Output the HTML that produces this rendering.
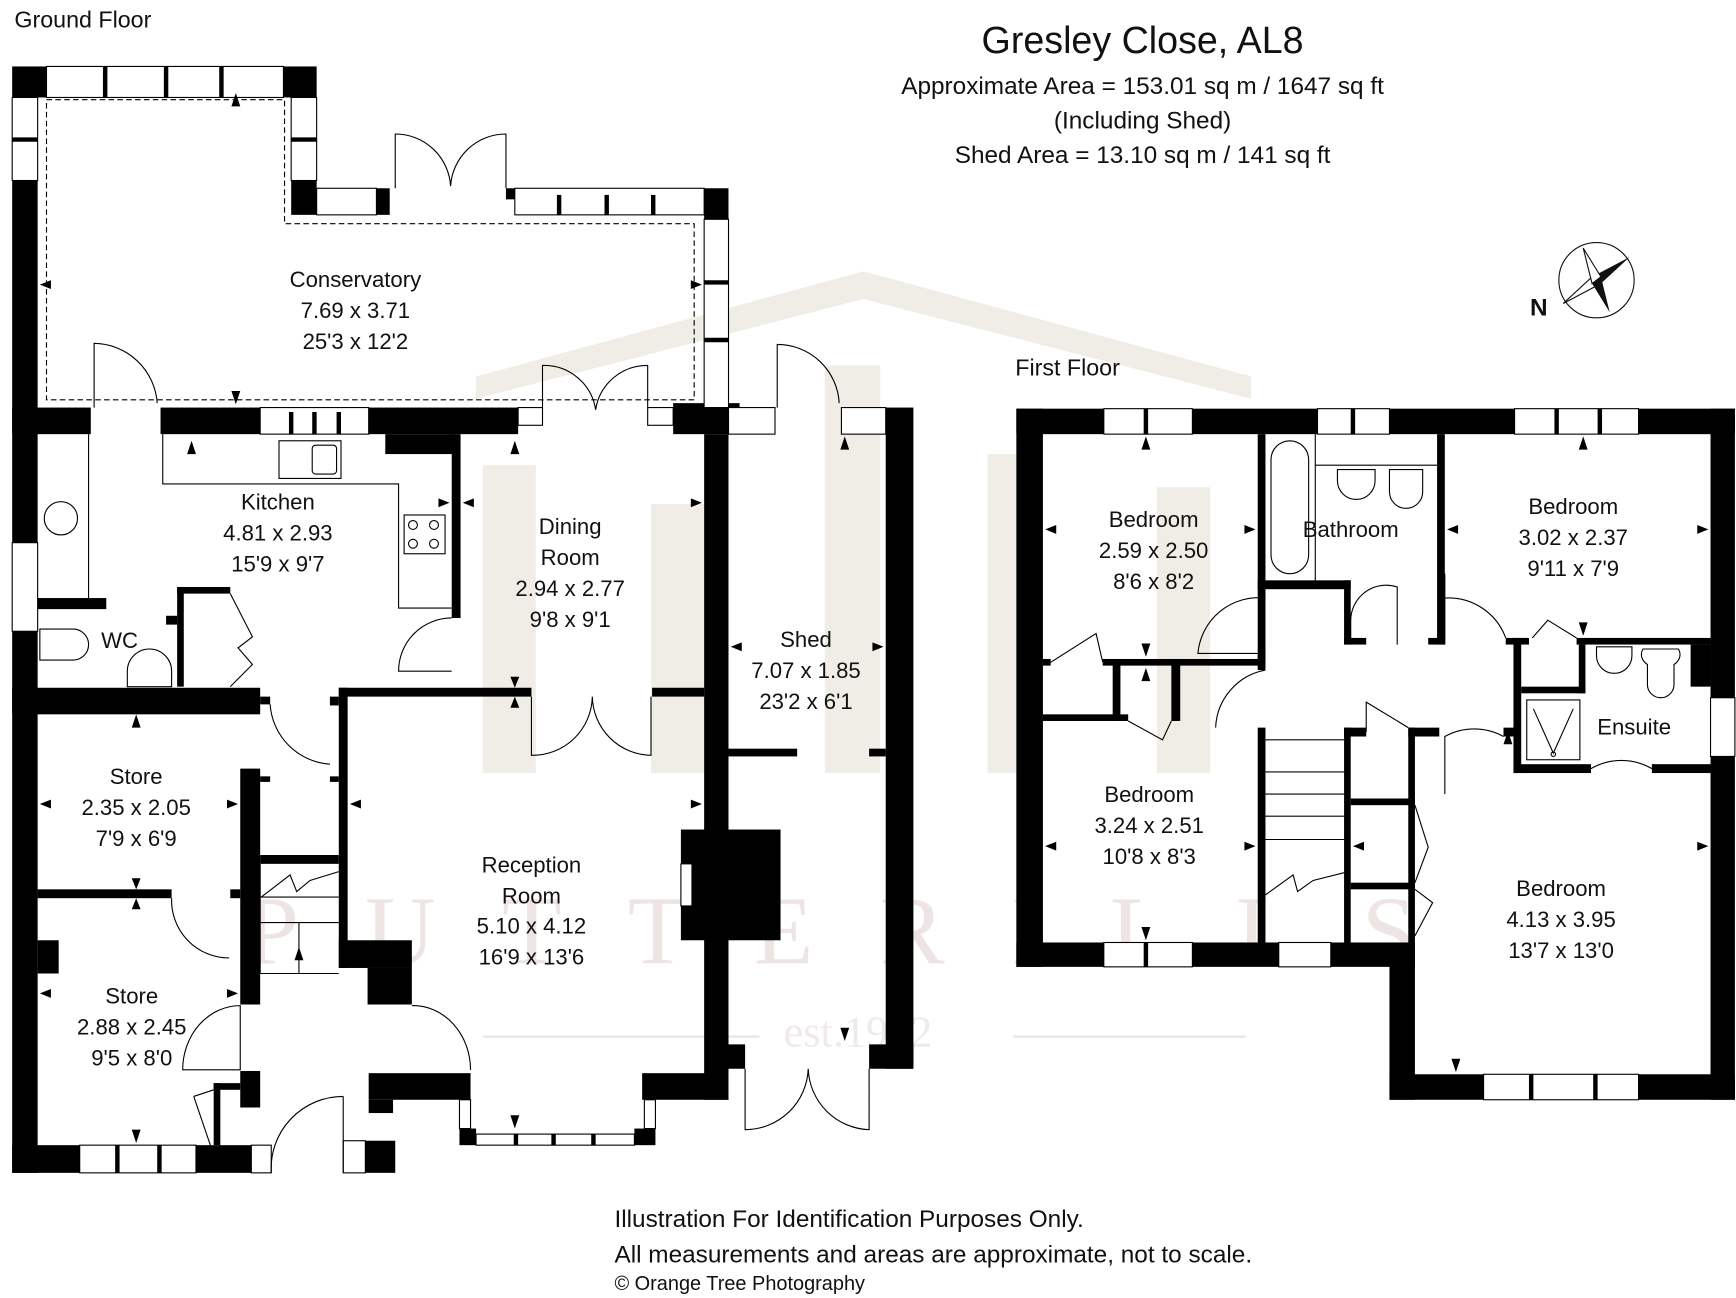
<!DOCTYPE html>
<html><head><meta charset="utf-8"><style>
html,body{margin:0;padding:0;background:#fff;}
svg{display:block;}
text{font-family:"Liberation Sans",sans-serif;fill:#111;}
</style></head><body>
<svg width="1736" height="1298" viewBox="0 0 1568 1172" preserveAspectRatio="none" xmlns="http://www.w3.org/2000/svg">
<!-- watermark -->
<g fill="#efede6">
<polygon points="430,340 780,245 1130,340 1130,360 780,270 430,360"/>
<rect x="436" y="420" width="48" height="278"/>
<rect x="588" y="455" width="48" height="243"/>
<rect x="745" y="330" width="50" height="368"/>
<rect x="892" y="410" width="48" height="288"/>
<rect x="1045" y="440" width="48" height="258"/>
</g>
<text x="780" y="870" text-anchor="middle" style="font-family:'Liberation Serif',serif;font-size:88px;fill:#efe4e4;letter-spacing:60px">PUTTERILLS</text>
<text x="775" y="945" text-anchor="middle" style="font-family:'Liberation Serif',serif;font-size:40px;fill:#f0eaea">est.1902</text>
<rect x="436" y="935" width="250" height="2" fill="#ece3e3"/>
<rect x="915" y="935" width="210" height="2" fill="#ece3e3"/>

<!-- text headers -->
<text x="13" y="25" style="font-size:21px">Ground Floor</text>
<text x="917" y="339" style="font-size:21px">First Floor</text>
<text x="1032" y="48" text-anchor="middle" style="font-size:34px">Gresley Close, AL8</text>
<text x="1032" y="85" text-anchor="middle" style="font-size:22px">Approximate Area =  153.01 sq m / 1647 sq ft</text>
<text x="1032" y="116" text-anchor="middle" style="font-size:22px">(Including Shed)</text>
<text x="1032" y="147" text-anchor="middle" style="font-size:22px">Shed Area =  13.10 sq m / 141 sq ft</text>
<text x="555" y="1108" style="font-size:22px">Illustration For Identification Purposes Only.</text>
<text x="555" y="1140" style="font-size:22px">All measurements and areas are approximate, not to scale.</text>
<text x="555" y="1165" style="font-size:18px">© Orange Tree Photography</text>

<!-- compass -->
<circle cx="1442" cy="253" r="34" fill="none" stroke="#111" stroke-width="1"/>
<polygon points="1472,232 1446,256 1438,250" fill="#111"/>
<polygon points="1412,274 1438,250 1446,256" fill="#fff" stroke="#111"/>
<polygon points="1430,224 1446,250 1438,256" fill="#fff" stroke="#111"/>
<polygon points="1454,282 1438,256 1446,250" fill="#111"/>
<text x="1382" y="285" style="font-size:22px;font-weight:bold">N</text>

<!-- ================= GROUND FLOOR ================= -->
<g fill="#000">
<!-- conservatory -->
<rect x="11" y="60" width="31" height="28"/>
<rect x="256" y="60" width="30" height="28"/>
<rect x="11" y="163" width="23" height="896"/>
<rect x="263" y="163" width="23" height="31"/>
<rect x="340" y="170" width="12" height="24"/>
<rect x="457" y="170" width="8" height="10"/>
<rect x="636" y="170" width="22" height="28"/>
<!-- kitchen top wall -->
<rect x="11" y="368" width="71" height="24"/>
<rect x="145" y="368" width="90" height="24"/>
<rect x="333" y="368" width="135" height="24"/>
<rect x="348" y="392" width="62" height="18"/>
<rect x="608" y="364" width="60" height="28"/>
<!-- kitchen / dining wall -->
<rect x="408" y="392" width="8" height="166"/>
<!-- reception right wall -->
<rect x="636" y="392" width="22" height="601"/>
<rect x="615" y="749" width="90" height="100"/>
<!-- WC / store -->
<rect x="34" y="540" width="62" height="10"/>
<rect x="11" y="621" width="224" height="24"/>
<rect x="235" y="629" width="9" height="7"/>
<rect x="160" y="530" width="48" height="6"/>
<rect x="160" y="530" width="6" height="90"/>
<rect x="150" y="556" width="10" height="8"/>
<!-- reception top -->
<rect x="306" y="621" width="174" height="8"/>
<rect x="589" y="621" width="47" height="8"/>
<rect x="298" y="629" width="8" height="8"/>
<rect x="306" y="621" width="8" height="253"/>
<rect x="306" y="849" width="66" height="25"/>
<rect x="332" y="874" width="40" height="33"/>
<!-- store/hall wall -->
<rect x="217" y="694" width="18" height="213"/>
<rect x="235" y="701" width="9" height="5"/>
<rect x="298" y="701" width="8" height="5"/>
<rect x="235" y="772" width="71" height="8"/>
<rect x="34" y="803" width="121" height="8"/>
<rect x="208" y="803" width="9" height="8"/>
<rect x="34" y="849" width="19" height="30"/>
<rect x="217" y="967" width="18" height="33"/>
<rect x="193" y="978" width="24" height="6"/>
<rect x="193" y="978" width="6" height="56"/>
<!-- bottom walls -->
<rect x="11" y="1034" width="61" height="25"/>
<rect x="177" y="1034" width="50" height="25"/>
<rect x="330" y="1030" width="27" height="29"/>
<rect x="333" y="969" width="92" height="24"/>
<rect x="333" y="993" width="22" height="12"/>
<rect x="415" y="1019" width="15" height="15"/>
<rect x="573" y="1019" width="19" height="15"/>
<rect x="580" y="969" width="78" height="24"/>
<!-- shed -->
<rect x="800" y="368" width="25" height="597"/>
<rect x="658" y="676" width="62" height="7"/>
<rect x="785" y="676" width="15" height="7"/>
<rect x="658" y="943" width="15" height="22"/>
<rect x="785" y="943" width="40" height="22"/>
</g>

<g fill="#fff" stroke="#000" stroke-width="1">
<!-- windows ground -->
<rect x="42" y="60" width="214" height="28"/>
<rect x="11" y="88" width="23" height="75"/>
<rect x="263" y="88" width="23" height="75"/>
<rect x="286" y="170" width="54" height="24"/>
<rect x="465" y="170" width="171" height="24"/>
<rect x="636" y="198" width="22" height="170"/>
<rect x="235" y="368" width="98" height="24"/>
<rect x="468" y="368" width="22" height="16"/>
<rect x="585" y="368" width="23" height="16"/>
<rect x="658" y="368" width="42" height="24"/>
<rect x="760" y="368" width="40" height="24"/>
<rect x="72" y="1034" width="105" height="25"/>
<rect x="227" y="1034" width="18" height="25"/>
<rect x="310" y="1030" width="20" height="29"/>
<rect x="415" y="993" width="10" height="26"/>
<rect x="582" y="993" width="10" height="26"/>
<rect x="430" y="1024" width="143" height="10"/>
<rect x="11" y="490" width="23" height="80" />
<rect x="615" y="780" width="10" height="38"/>
</g>
<g stroke="#000" stroke-width="4">
<line x1="95" y1="60" x2="95" y2="88"/><line x1="150" y1="60" x2="150" y2="88"/><line x1="200" y1="60" x2="200" y2="88"/>
<line x1="11" y1="126" x2="34" y2="126"/><line x1="263" y1="126" x2="286" y2="126"/>
<line x1="505" y1="176" x2="505" y2="194"/><line x1="548" y1="176" x2="548" y2="194"/><line x1="590" y1="176" x2="590" y2="194"/>
<line x1="636" y1="255" x2="658" y2="255"/><line x1="636" y1="307" x2="658" y2="307"/>
<line x1="263" y1="372" x2="263" y2="392"/><line x1="284" y1="372" x2="284" y2="392"/><line x1="306" y1="372" x2="306" y2="392"/>
<line x1="106" y1="1034" x2="106" y2="1059"/><line x1="144" y1="1034" x2="144" y2="1059"/>
<line x1="466" y1="1024" x2="466" y2="1034"/><line x1="500" y1="1024" x2="500" y2="1034"/><line x1="536" y1="1024" x2="536" y2="1034"/>
</g>
<g fill="none" stroke="#000" stroke-width="1">
<!-- dashed conservatory -->
<polyline points="42,90 257,90 257,202 627,202 627,361 42,361 42,90" stroke-dasharray="5,3"/>
<!-- doors -->
<path d="M357,170 V121 A50,50 0 0 1 407,168 M457,170 V121 A50,50 0 0 0 407,168"/>
<path d="M85,368 V310 A58,58 0 0 1 142,364"/>
<path d="M490,368 V330 A47,47 0 0 1 538,370 M585,368 V330 A47,47 0 0 0 538,370"/>
<path d="M702,368 V311 A56,56 0 0 1 758,364"/>
<path d="M480,629 V682 A54,54 0 0 0 535,629 M588,629 V682 A54,54 0 0 1 535,629"/>
<path d="M244,636 A58,58 0 0 0 298,690"/>
<path d="M155,811 A52,52 0 0 0 207,865"/>
<path d="M165,966 A52,58 0 0 1 217,908 L217,966 Z"/>
<path d="M425,966 A52,58 0 0 0 372,908"/>
<path d="M310,990 V1059 M310,990 A65,65 0 0 0 245,1059"/>
<path d="M673,965 V1020 A57,57 0 0 0 730,965 M785,965 V1020 A57,57 0 0 1 730,965"/>
<path d="M408,558 A48,48 0 0 0 360,606 L408,606"/>
<path d="M175,990 L190,1034 M175,990 L193,984"/>
<!-- kitchen counter / wc -->
<polyline points="147,392 147,437 360,437 360,549 408,549"/>
<line x1="80" y1="392" x2="80" y2="540"/>
<rect x="252" y="398" width="56" height="34"/>
<rect x="282" y="402" width="22" height="26" rx="3"/>
<rect x="365" y="465" width="37" height="35"/>
<circle cx="373" cy="474" r="4"/><circle cx="392" cy="474" r="4"/><circle cx="373" cy="491" r="4"/><circle cx="392" cy="491" r="4"/>
<circle cx="55" cy="468" r="15"/>
<path d="M36,568 h30 a14,14 0 0 1 0,28 h-30 z"/>
<path d="M115,620 v-14 a20,20 0 0 1 40,0 v14 z"/>
<path d="M208,536 L228,575 L215,585 L228,600 L208,620"/>
<!-- stairs -->
<line x1="235" y1="810" x2="306" y2="810"/><line x1="235" y1="833" x2="306" y2="833"/><line x1="235" y1="879" x2="306" y2="879"/>
<line x1="235" y1="780" x2="235" y2="879"/><line x1="270" y1="833" x2="270" y2="879"/>
<polyline points="236,810 262,790 268,805 280,795 306,787"/>
</g>

<!-- ================= FIRST FLOOR ================= -->
<g fill="#000">
<rect x="918" y="369" width="79" height="23"/>
<rect x="1077" y="369" width="113" height="23"/>
<rect x="1255" y="369" width="113" height="23"/>
<rect x="1480" y="369" width="87" height="23"/>
<rect x="918" y="369" width="24" height="504"/>
<rect x="918" y="851" width="79" height="22"/>
<rect x="1077" y="851" width="78" height="22"/>
<rect x="1202" y="851" width="76" height="22"/>
<rect x="1255" y="851" width="23" height="142"/>
<rect x="1255" y="970" width="85" height="23"/>
<rect x="1480" y="970" width="87" height="23"/>
<rect x="1545" y="369" width="22" height="261"/>
<rect x="1545" y="683" width="22" height="310"/>
<!-- interior -->
<rect x="1136" y="392" width="7" height="210"/>
<rect x="1136" y="590" width="7" height="15"/>
<rect x="1136" y="657" width="7" height="194"/>
<rect x="1136" y="524" width="84" height="8"/>
<rect x="1214" y="524" width="6" height="58"/>
<rect x="1214" y="576" width="20" height="6"/>
<rect x="1298" y="392" width="7" height="190"/>
<rect x="1290" y="576" width="15" height="6"/>
<rect x="1360" y="576" width="21" height="6"/>
<rect x="1424" y="576" width="121" height="6"/>
<rect x="1367" y="576" width="7" height="122"/>
<rect x="1374" y="620" width="58" height="6"/>
<rect x="1426" y="582" width="6" height="44"/>
<rect x="1367" y="690" width="70" height="8"/>
<rect x="1492" y="690" width="53" height="8"/>
<rect x="1527" y="582" width="18" height="38"/>
<rect x="942" y="595" width="7" height="6"/>
<rect x="996" y="595" width="147" height="6"/>
<rect x="1005" y="600" width="7" height="51"/>
<rect x="1058" y="600" width="8" height="51"/>
<rect x="942" y="645" width="77" height="6"/>
<rect x="1214" y="657" width="6" height="194"/>
<rect x="1214" y="657" width="20" height="8"/>
<rect x="1272" y="657" width="6" height="194"/>
<rect x="1272" y="657" width="28" height="8"/>
<rect x="1220" y="721" width="58" height="6"/>
<rect x="1220" y="797" width="58" height="6"/>
<rect x="1358" y="657" width="9" height="8"/>
</g>
<g fill="#fff" stroke="#000" stroke-width="1">
<rect x="997" y="369" width="80" height="23"/>
<rect x="1190" y="369" width="65" height="23"/>
<rect x="1368" y="369" width="112" height="23"/>
<rect x="997" y="851" width="80" height="22"/>
<rect x="1155" y="851" width="47" height="22"/>
<rect x="1340" y="970" width="140" height="23"/>
<rect x="1545" y="630" width="22" height="53"/>
</g>
<g stroke="#000" stroke-width="4">
<line x1="1035" y1="369" x2="1035" y2="392"/><line x1="1222" y1="369" x2="1222" y2="392"/>
<line x1="1406" y1="369" x2="1406" y2="392"/><line x1="1445" y1="369" x2="1445" y2="392"/>
<line x1="1035" y1="851" x2="1035" y2="873"/>
<line x1="1383" y1="970" x2="1383" y2="993"/><line x1="1441" y1="970" x2="1441" y2="993"/>
</g>
<g fill="none" stroke="#000" stroke-width="1">
<!-- bathroom fixtures -->
<rect x="1148" y="398" width="34" height="120" rx="17"/>
<line x1="1188" y1="392" x2="1188" y2="524"/>
<line x1="1188" y1="420" x2="1298" y2="420"/>
<path d="M1208,424 h34 v10 a17,17 0 0 1 -34,0 z"/>
<path d="M1255,424 h30 v20 a15,15 0 0 1 -30,0 z"/>
<!-- doors -->
<path d="M1143,540 A55,55 0 0 0 1082,590 L1136,590"/>
<path d="M1143,605 A55,55 0 0 0 1098,657"/>
<path d="M1220,582 V560 A32,32 0 0 1 1262,530 L1262,582"/>
<path d="M1305,540 A55,55 0 0 1 1360,576"/>
<path d="M1305,582 V518"/>
<path d="M949,598 L990,572 L996,598"/>
<path d="M1019,651 L1050,668 L1058,651"/>
<path d="M1234,661 L1234,634 L1272,657"/>
<path d="M1305,717 V665 A55,55 0 0 1 1358,665"/>
<path d="M1384,576 L1398,560 L1424,576"/>
<path d="M1437,694 A55,55 0 0 1 1492,694"/>
<path d="M1278,727 L1290,765 L1278,797 M1278,803 L1294,815 L1278,845"/>
<!-- ensuite -->
<rect x="1379" y="632" width="48" height="54"/>
<path d="M1385,640 L1403,680 L1421,640"/><circle cx="1403" cy="681" r="2"/>
<path d="M1442,584 h32 v8 a16,16 0 0 1 -32,0 z"/>
<path d="M1484,586 h32 a16,12 0 0 1 -4,14 v18 a12,12 0 0 1 -24,0 v-18 a16,12 0 0 1 -4,-14 z"/>
<!-- stairs -->
<line x1="1143" y1="668" x2="1214" y2="668"/><line x1="1143" y1="697" x2="1214" y2="697"/>
<line x1="1143" y1="717" x2="1214" y2="717"/><line x1="1143" y1="737" x2="1214" y2="737"/>
<line x1="1143" y1="758" x2="1214" y2="758"/>
<polyline points="1143,808 1168,790 1172,805 1186,795 1214,788"/>
</g>

<!-- arrowheads -->
<g fill="#000">
<polygon points="213,84 209,96 217,96"/><polygon points="213,365 209,353 217,353"/>
<polygon points="36,257 46,253 46,261"/><polygon points="634,257 624,253 624,261"/>
<polygon points="173,398 169,410 177,410"/><polygon points="465,398 461,410 469,410"/>
<polygon points="406,454 396,450 396,458"/><polygon points="418,454 428,450 428,458"/>
<polygon points="634,454 624,450 624,458"/>
<polygon points="465,621 461,611 469,611"/><polygon points="465,629 461,639 469,639"/>
<polygon points="123,645 119,657 127,657"/>
<polygon points="36,726 46,722 46,730"/><polygon points="215,726 205,722 205,730"/>
<polygon points="123,803 119,793 127,793"/><polygon points="123,811 119,821 127,821"/>
<polygon points="36,897 46,893 46,901"/><polygon points="215,897 205,893 205,901"/>
<polygon points="123,1032 119,1020 127,1020"/>
<polygon points="316,726 326,722 326,730"/><polygon points="634,726 624,722 624,730"/>
<polygon points="465,1019 461,1007 469,1007"/>
<polygon points="660,584 670,580 670,588"/><polygon points="798,584 788,580 788,588"/>
<polygon points="763,394 759,406 767,406"/><polygon points="763,940 759,928 767,928"/>
<polygon points="944,478 954,474 954,482"/><polygon points="1134,478 1124,474 1124,482"/>
<polygon points="1035,394 1031,406 1039,406"/><polygon points="1035,593 1031,581 1039,581"/>
<polygon points="1035,603 1031,615 1039,615"/>
<polygon points="944,764 954,760 954,768"/><polygon points="1134,764 1124,760 1124,768"/>
<polygon points="1035,849 1031,837 1039,837"/>
<polygon points="1307,478 1317,474 1317,482"/><polygon points="1543,478 1533,474 1533,482"/>
<polygon points="1430,394 1426,406 1434,406"/><polygon points="1430,574 1426,562 1434,562"/>
<polygon points="1222,764 1232,760 1232,768"/><polygon points="1543,764 1533,760 1533,768"/>
<polygon points="1362,660 1358,672 1366,672"/><polygon points="1315,968 1311,956 1319,956"/>
<polygon points="270,855 266,867 274,867"/>
</g>

<!-- room labels -->
<g style="font-size:20px" text-anchor="middle">
<text x="321" y="259">Conservatory</text><text x="321" y="287">7.69 x 3.71</text><text x="321" y="315">25'3 x 12'2</text>
<text x="251" y="460">Kitchen</text><text x="251" y="488">4.81 x 2.93</text><text x="251" y="516">15'9 x 9'7</text>
<text x="515" y="482">Dining</text><text x="515" y="510">Room</text><text x="515" y="538">2.94 x 2.77</text><text x="515" y="566">9'8 x 9'1</text>
<text x="108" y="585">WC</text>
<text x="728" y="584">Shed</text><text x="728" y="612">7.07 x 1.85</text><text x="728" y="640">23'2 x 6'1</text>
<text x="123" y="708">Store</text><text x="123" y="736">2.35 x 2.05</text><text x="123" y="764">7'9 x 6'9</text>
<text x="480" y="788">Reception</text><text x="480" y="816">Room</text><text x="480" y="843">5.10 x 4.12</text><text x="480" y="871">16'9 x 13'6</text>
<text x="119" y="906">Store</text><text x="119" y="934">2.88 x 2.45</text><text x="119" y="962">9'5 x 8'0</text>
<text x="1042" y="476">Bedroom</text><text x="1042" y="504">2.59 x 2.50</text><text x="1042" y="532">8'6 x 8'2</text>
<text x="1220" y="485">Bathroom</text>
<text x="1421" y="464">Bedroom</text><text x="1421" y="492">3.02 x 2.37</text><text x="1421" y="520">9'11 x 7'9</text>
<text x="1476" y="663">Ensuite</text>
<text x="1038" y="724">Bedroom</text><text x="1038" y="752">3.24 x 2.51</text><text x="1038" y="780">10'8 x 8'3</text>
<text x="1410" y="809">Bedroom</text><text x="1410" y="837">4.13 x 3.95</text><text x="1410" y="865">13'7 x 13'0</text>
</g>
</svg>
</body></html>
